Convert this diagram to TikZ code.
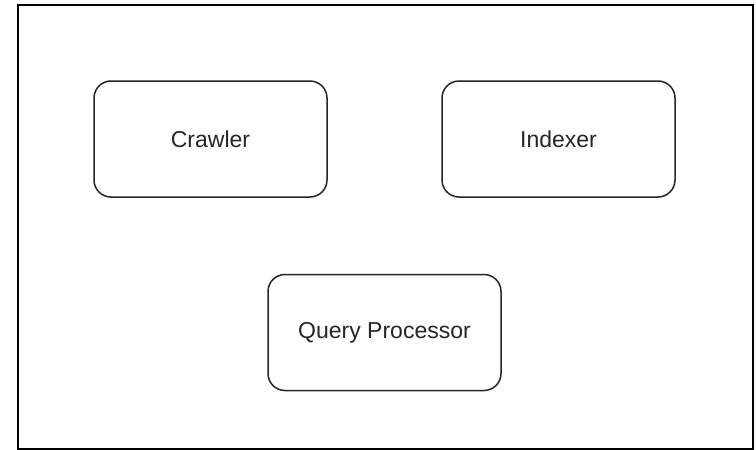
\documentclass[tikz,border=0pt]{standalone}
\usepackage{fontspec}
\setmainfont{Liberation Sans}
\begin{document}
\begin{tikzpicture}[x=1pt,y=-1pt,
  frame/.style={draw=black,line width=2pt},
  module/.style={draw=black!85,line width=1.5pt,rounded corners=17pt,
    minimum width=233pt,minimum height=116pt,inner sep=0pt,
    font=\fontsize{23}{27}\selectfont,text=black!85},
]
  \useasboundingbox (0,0) rectangle (756,450);
  \fill[white] (0,0) rectangle (756,450);
  % outer frame
  \node[frame,minimum width=735pt,minimum height=444pt,inner sep=0pt,anchor=north west]
    (frame) at (17,4) {};
  % components
  \node[module] (crawler) at (210.5,139) {Crawler};
  \node[module] (indexer) at (558.5,139) {Indexer};
  \node[module] (query) at (384.5,332.5) {Query Processor};
\end{tikzpicture}
\end{document}
